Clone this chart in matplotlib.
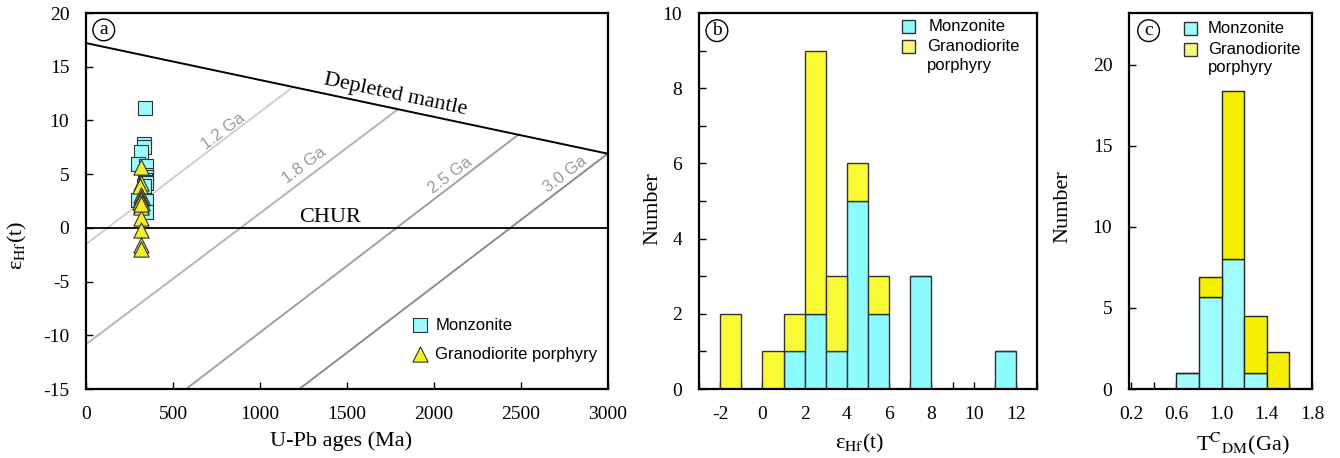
import matplotlib
matplotlib.use('Agg')
import matplotlib.pyplot as plt
from matplotlib.patches import Rectangle
from matplotlib.ticker import MultipleLocator, FixedLocator

plt.rcParams['font.family'] = ['Liberation Serif', 'DejaVu Serif']
plt.rcParams['mathtext.fontset'] = 'stix'
plt.rcParams['axes.unicode_minus'] = False

# ---- (a) U-Pb age vs eHf(t) ----
monz_age = [337, 335, 333, 317, 296, 343, 343, 345, 340, 338, 342, 333, 296, 343, 343]
monz_ehf = [11.2, 7.8, 7.5, 7.1, 5.95, 5.8, 4.9, 4.7, 4.5, 4.3, 4.2, 3.9, 2.6, 2.5, 1.5]
gran_age = [315, 318, 312, 316, 320, 314, 317, 313, 319, 315, 316, 318, 314, 317, 315, 318]
gran_ehf = [5.7, 4.2, 3.9, 3.1, 2.9, 2.8, 2.6, 2.4, 2.3, 2.0, 1.9, 0.9, -0.2, -1.6, -1.95, 2.2]

# reference lines (age in Ma, eHf)
dm_age = [0, 3000]
dm_ehf = [17.2, 6.9]
chur_age = [0, 3000]
chur_ehf = [0, 0]
crust_names = ['1.2 Ga', '1.8 Ga', '2.5 Ga', '3.0 Ga']
crust_age0 = [0, 0, 575, 1226]
crust_ehf0 = [-1.52, -10.84, -15, -15]
crust_age1 = [1188, 1790, 2483, 3000]
crust_ehf1 = [13.1, 11.0, 8.65, 6.93]
crust_colors = ['#cfcfcf', '#b4b4b4', '#a0a0a0', '#8c8c8c']
crust_lab_age = [790, 1256, 2096, 2755]
crust_lab_ehf = [9.0, 5.8, 4.85, 5.0]

# ---- (b) eHf(t) histogram ----
b_bins = [-2, -1, 0, 1, 2, 3, 4, 5, 6, 7, 8, 9, 10, 11]
b_monz = [0, 0, 0, 1, 2, 1, 5, 2, 0, 3, 0, 0, 0, 1]
b_gran = [2, 0, 1, 1, 7, 2, 1, 1, 0, 0, 0, 0, 0, 0]

# ---- (c) TDM^C histogram ----
c_bins = [0.6, 0.8, 1.0, 1.2, 1.4]
c_monz = [1.0, 5.7, 8.0, 1.0, 0.0]
c_gran = [0.0, 1.2, 10.4, 3.5, 2.3]

cyan_a, yel_a = '#9cfcfc', '#f2f020'
cyan_b, yel_b = '#8cfcfc', '#fafa32'
cyan_c, yel_c = '#a0fcfc', '#f5f000'

fig = plt.figure(figsize=(13.4, 4.58), dpi=100)
W, H = 1340, 458
ax_a = fig.add_axes([86 / W, 69 / H, 522 / W, 376 / H])
ax_b = fig.add_axes([699 / W, 69 / H, 338 / W, 376 / H])
ax_c = fig.add_axes([1129 / W, 69 / H, 183 / W, 376 / H])

for ax in (ax_a, ax_b, ax_c):
    for s in ax.spines.values():
        s.set_linewidth(1.6)
    ax.tick_params(which='both', direction='in', length=5, width=1,
                   pad=12, labelsize=14)

EHF = r'ε$_{\mathrm{Hf}}$(t)'


def panel_tag(ax, x, y, letter):
    ax.text(x, y, letter, transform=ax.transAxes, ha='center', va='center',
            fontsize=14, bbox=dict(boxstyle='circle,pad=0.12', fc='white',
                                   ec='black', lw=1))


# panel a
ax = ax_a
for i in range(len(crust_names)):
    ax.plot([crust_age0[i], crust_age1[i]], [crust_ehf0[i], crust_ehf1[i]],
            color=crust_colors[i], lw=1.4, zorder=1)
    ax.text(crust_lab_age[i], crust_lab_ehf[i], crust_names[i], rotation=37,
            ha='center', va='center', color='#9a9a9a', fontsize=12,
            family='Liberation Sans', rotation_mode='anchor')
ax.plot(dm_age, dm_ehf, color='black', lw=1.4, zorder=2)
ax.plot(chur_age, chur_ehf, color='black', lw=1.3, zorder=2)
ax.text(1777, 12.4, 'Depleted mantle', rotation=-12, ha='center', va='center',
        fontsize=16, rotation_mode='anchor')
ax.text(1404, 0.95, 'CHUR', ha='center', va='center', fontsize=16)

ax.scatter(monz_age, monz_ehf, marker='s', s=90, c=cyan_a, edgecolors='#333333',
           linewidths=0.8, zorder=3, label='Monzonite')
ax.scatter(gran_age, gran_ehf, marker='^', s=120, c=yel_a, edgecolors='#333333',
           linewidths=0.8, zorder=4, label='Granodiorite porphyry')
ax.legend(loc='upper left', bbox_to_anchor=(0.618, 0.19), frameon=False,
          prop={'family': 'Liberation Sans', 'size': 12}, handletextpad=0.2,
          labelspacing=0.85, borderpad=0, borderaxespad=0, handlelength=1.4)

ax.set_xlim(0, 3000)
ax.set_ylim(-15, 20)
ax.xaxis.set_major_locator(MultipleLocator(500))
ax.yaxis.set_major_locator(MultipleLocator(5))
ax.set_xlabel('U-Pb ages (Ma)', fontsize=16)
ax.set_ylabel(EHF, fontsize=16)
ax.xaxis.set_label_coords(0.489, -0.112)
ax.yaxis.set_label_coords(-0.11, 0.383)
panel_tag(ax, 0.034, 0.955, 'a')


def key(ax, x, y, w, h, color, lines, tx, dy):
    ax.add_patch(Rectangle((x - w / 2, y - h / 2), w, h, transform=ax.transAxes,
                           fc=color, ec='#333333', lw=1, clip_on=False))
    for j, t in enumerate(lines):
        ax.text(tx, y - j * dy, t, transform=ax.transAxes, ha='left',
                va='center', fontsize=12, family='Liberation Sans')


# panel b
ax = ax_b
ax.bar(b_bins, b_monz, width=1, align='edge', color=cyan_b, edgecolor='#333333',
       lw=1, zorder=2)
ax.bar(b_bins, b_gran, width=1, align='edge', bottom=b_monz, color=yel_b,
       edgecolor='#333333', lw=1, zorder=2)
ax.set_xlim(-3, 13)
ax.set_ylim(0, 10)
ax.xaxis.set_major_locator(MultipleLocator(2))
ax.xaxis.set_minor_locator(MultipleLocator(1))
ax.yaxis.set_major_locator(MultipleLocator(2))
ax.yaxis.set_minor_locator(MultipleLocator(1))
ax.set_xlabel(EHF, fontsize=16)
ax.set_ylabel('Number', fontsize=16)
ax.xaxis.set_label_coords(0.476, -0.115)
ax.yaxis.set_label_coords(-0.109, 0.479)
panel_tag(ax, 0.053, 0.953, 'b')
key(ax, 0.621, 0.963, 0.039, 0.035, cyan_b, ['Monzonite'], 0.68, 0.05)
key(ax, 0.621, 0.910, 0.039, 0.035, '#f8f878', ['Granodiorite', 'porphyry'], 0.675, 0.05)

# panel c
ax = ax_c
ax.bar(c_bins, c_monz, width=0.2, align='edge', color=cyan_c, edgecolor='#222222',
       lw=1, zorder=2)
ax.bar(c_bins, c_gran, width=0.2, align='edge', bottom=c_monz, color=yel_c,
       edgecolor='#222222', lw=1, zorder=2)
ax.set_xlim(0.18, 1.8)
ax.set_ylim(0, 23.2)
ax.xaxis.set_major_locator(FixedLocator([0.2, 0.6, 1.0, 1.4, 1.8]))
ax.xaxis.set_minor_locator(FixedLocator([0.4, 0.8, 1.2, 1.6]))
ax.yaxis.set_major_locator(MultipleLocator(5))
ax.set_xticklabels(['0.2', '0.6', '1.0', '1.4', '1.8'])
ax.set_xlabel(r'T$^{\mathrm{C}}$$_{\mathrm{DM}}$(Ga)', fontsize=16)
ax.set_ylabel('Number', fontsize=16)
ax.xaxis.set_label_coords(0.62, -0.112)
ax.yaxis.set_label_coords(-0.31, 0.484)
panel_tag(ax, 0.107, 0.953, 'c')
key(ax, 0.337, 0.959, 0.0735, 0.035, cyan_c, ['Monzonite'], 0.431, 0.05)
key(ax, 0.337, 0.904, 0.0735, 0.035, '#f8f878', ['Granodiorite', 'porphyry'], 0.431, 0.05)

fig.savefig('out.png', dpi=100)
